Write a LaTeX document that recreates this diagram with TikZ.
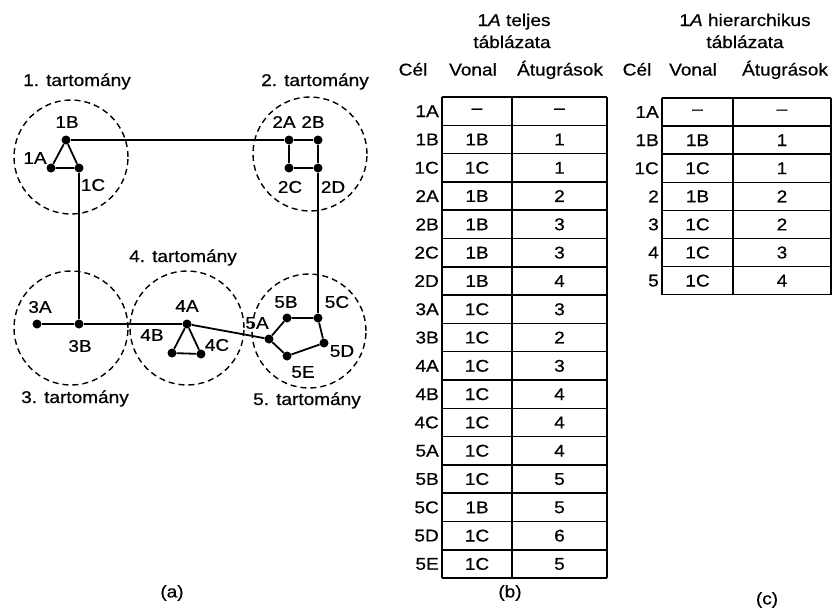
\documentclass[tikz,border=0pt]{standalone}
\usepackage{fontspec}
\setmainfont{Liberation Sans}[FakeStretch=1.12,FakeBold=0.6]
\newcommand\fs{\fontsize{17}{19}\selectfont}
\begin{document}
\begin{tikzpicture}[x=1pt,y=-1pt,
  dot/.style={circle,fill=black,inner sep=0pt,minimum size=9pt},
  lbl/.style={font=\fs,inner sep=0pt},
  link/.style={line width=1.8pt},
  dom/.style={circle,draw,dash pattern=on 6pt off 4pt,line width=1.4pt,minimum size=114pt,inner sep=0pt},
  grid/.style={line width=1.5pt}]
\useasboundingbox (0,0) rectangle (833,611);
% domains
\node[dom] (d1) at (71,157) {};
\node[dom] (d2) at (310,154) {};
\node[dom] (d3) at (71,328) {};
\node[dom] (d4) at (187,328) {};
\node[dom] (d5) at (309,331) {};
\node[lbl,anchor=base] (t1) at (77,86) {1. tartomány};
\node[lbl,anchor=base] (t2) at (315,86) {2. tartomány};
\node[lbl,anchor=base] (t3) at (75,403) {3. tartomány};
\node[lbl,anchor=base] (t4) at (183,262) {4. tartomány};
\node[lbl,anchor=base] (t5) at (307,405) {5. tartomány};
% routers
\node[dot] (1A) at (51,168) {};
\node[dot] (1B) at (66,140) {};
\node[dot] (1C) at (79,168) {};
\node[dot] (2A) at (289,140) {};
\node[dot] (2B) at (318,140) {};
\node[dot] (2C) at (289,168) {};
\node[dot] (2D) at (318,168) {};
\node[dot] (3A) at (37,324) {};
\node[dot] (3B) at (79,324) {};
\node[dot] (4A) at (187,324) {};
\node[dot] (4B) at (172,353) {};
\node[dot] (4C) at (201,354) {};
\node[dot] (5A) at (269,339) {};
\node[dot] (5B) at (287,318) {};
\node[dot] (5C) at (318,318) {};
\node[dot] (5D) at (324,343) {};
\node[dot] (5E) at (287,356) {};
% router labels
\node[lbl] (l1A) at (35,158) {1A};
\node[lbl] (l1B) at (67,122) {1B};
\node[lbl] (l1C) at (93,185) {1C};
\node[lbl] (l2A) at (284,122) {2A};
\node[lbl] (l2B) at (313,122) {2B};
\node[lbl] (l2C) at (290,187) {2C};
\node[lbl] (l2D) at (333,187) {2D};
\node[lbl] (l3A) at (40,307) {3A};
\node[lbl] (l3B) at (80,346) {3B};
\node[lbl] (l4A) at (187,306) {4A};
\node[lbl] (l4B) at (152,335) {4B};
\node[lbl] (l4C) at (217,345) {4C};
\node[lbl] (l5A) at (257,323) {5A};
\node[lbl] (l5B) at (286,302) {5B};
\node[lbl] (l5C) at (337,302) {5C};
\node[lbl] (l5D) at (342,351) {5D};
\node[lbl] (l5E) at (303,372) {5E};
% links
\draw[link] (1A) -- (1B) -- (1C) -- (1A);
\draw[link] (1B) -- (2A);
\draw[link] (1C) -- (3B);
\draw[link] (2A) -- (2B) -- (2D) -- (2C) -- (2A);
\draw[link] (2D) -- (5C);
\draw[link] (3A) -- (3B) -- (4A);
\draw[link] (4A) -- (4B) -- (4C) -- (4A);
\draw[link] (4A) -- (5A);
\draw[link] (5A) -- (5B) -- (5C) -- (5D) -- (5E) -- (5A);
% table (b)
\node[lbl,anchor=base] (bt1) at (514,26) {1\textit{A} teljes};
\node[lbl,anchor=base] (bt2) at (512,48) {táblázata};
\node[lbl,anchor=base] (bh1) at (413,75.5) {Cél};
\node[lbl,anchor=base] (bh2) at (473,75.5) {Vonal};
\node[lbl,anchor=base] (bh3) at (560,75.5) {Átugrások};
\foreach \c/\v/\h [count=\i] in {1A/\textendash/\textendash,1B/1B/1,1C/1C/1,2A/1B/2,2B/1B/3,2C/1B/3,2D/1B/4,3A/1C/3,3B/1C/2,4A/1C/3,4B/1C/4,4C/1C/4,5A/1C/4,5B/1C/5,5C/1B/5,5D/1C/6,5E/1C/5}{
  \pgfmathsetmacro\yy{97+(\i-0.5)*28.3}
  \node[lbl,anchor=east] (bc\i) at (439,\yy) {\c};
  \node[lbl] (bv\i) at (477,\yy) {\v};
  \node[lbl] (bh\i) at (559.5,\yy) {\h};
}
\foreach \i in {0,...,17}{\draw[grid] (442,97+\i*28.3) -- (607,97+\i*28.3);}
\foreach \x in {442,512,607}{\draw[grid] (\x,97) -- (\x,578.1);}
\node[lbl] (capb) at (510,593) {(b)};
% table (c)
\node[lbl,anchor=base] (ct1) at (745,26) {1\textit{A} hierarchikus};
\node[lbl,anchor=base] (ct2) at (745,48) {táblázata};
\node[lbl,anchor=base] (ch1) at (637,75.5) {Cél};
\node[lbl,anchor=base] (ch2) at (693,75.5) {Vonal};
\node[lbl,anchor=base] (ch3) at (785,75.5) {Átugrások};
\foreach \c/\v/\h [count=\i] in {1A/\textendash/\textendash,1B/1B/1,1C/1C/1,2/1B/2,3/1C/2,4/1C/3,5/1C/4}{
  \pgfmathsetmacro\yy{98+(\i-0.5)*28.1}
  \node[lbl,anchor=east] (cc\i) at (659,\yy) {\c};
  \node[lbl] (cv\i) at (697.5,\yy) {\v};
  \node[lbl] (ch\i) at (782,\yy) {\h};
}
\foreach \i in {0,...,7}{\draw[grid] (662,98+\i*28.1) -- (831,98+\i*28.1);}
\foreach \x in {662,733,831}{\draw[grid] (\x,98) -- (\x,294.7);}
\node[lbl] (capc) at (767,600) {(c)};
\node[lbl] (capa) at (172,593) {(a)};
\end{tikzpicture}
\end{document}
